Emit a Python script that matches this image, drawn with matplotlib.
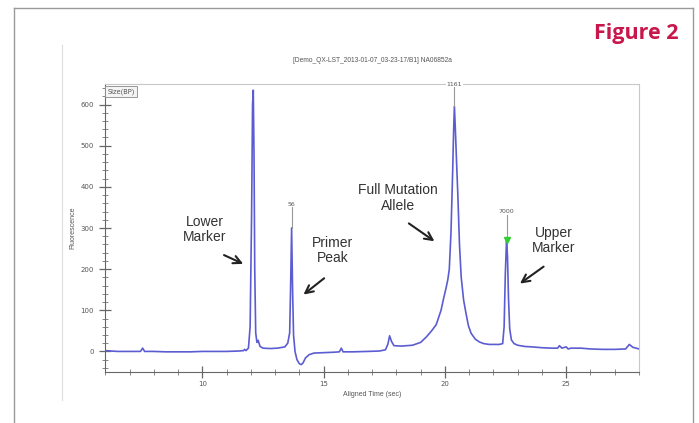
import matplotlib
matplotlib.use("Agg")
import matplotlib.pyplot as plt
from matplotlib.lines import Line2D
from matplotlib.ticker import MultipleLocator

# electropherogram trace
time_s = [6.0, 6.5, 7.0, 7.45, 7.54, 7.62, 8.0, 8.5, 9.0, 9.5, 10.0, 10.5, 11.0, 11.5,
          11.7, 11.74, 11.8, 11.9, 11.97, 12.03, 12.07, 12.1, 12.13, 12.16, 12.2, 12.25,
          12.3, 12.38, 12.5, 12.8, 13.1, 13.4, 13.52, 13.6, 13.64, 13.68, 13.72, 13.76,
          13.82, 13.9, 14.0, 14.08, 14.15, 14.25, 14.4, 14.6, 15.0, 15.4, 15.65, 15.73,
          15.8, 16.2, 16.8, 17.3, 17.55, 17.65, 17.72, 17.8, 17.9, 18.2, 18.66, 19.0,
          19.23, 19.45, 19.64, 19.84, 19.95, 20.05, 20.12, 20.18, 20.25, 20.32, 20.36,
          20.39, 20.43, 20.48, 20.53, 20.6, 20.67, 20.77, 20.87, 20.97, 21.08, 21.25,
          21.42, 21.6, 21.83, 22.05, 22.24, 22.38, 22.44, 22.49, 22.54, 22.58, 22.62,
          22.67, 22.74, 22.85, 23.0, 23.3, 23.6, 24.0, 24.4, 24.65, 24.72, 24.82, 25.0,
          25.08, 25.2, 25.6, 26.0, 26.5, 27.0, 27.45, 27.6, 27.75, 28.0]
fluor = [2, 0, 0, 0, 8, 0, 0, -1, -1, -1, 0, 0, 0, 1,
         2, 5, 2, 8, 60, 330, 600, 635, 480, 200, 45, 22,
         27, 12, 8, 7, 8, 11, 20, 45, 160, 300, 150, 40,
         0, -20, -30, -32, -28, -16, -8, -4, -3, -2, -1, 8,
         -1, -1, 0, 1, 4, 18, 38, 24, 14, 13, 15, 22,
         35, 50, 65, 100, 130, 155, 175, 200, 290, 440, 540,
         596, 540, 460, 384, 260, 181, 125, 92, 62, 44, 30,
         23, 19, 17, 17, 17, 19, 60, 190, 270, 230, 130,
         55, 28, 19, 15, 12, 11, 9, 8, 8, 14, 8, 11,
         6, 8, 8, 6, 5, 5, 6, 17, 10, 6]

# peak size calls: (label, time, top of peak, label height)
peak_names = ["56", "1161", "7000"]
peak_time = [13.68, 20.39, 22.54]
peak_top = [300, 596, 270]
peak_label_y = [358, 650, 340]

# arrows: text, text centre, arrow tail, arrow head
notes = ["Lower\nMarker", "Primer\nPeak", "Full Mutation\nAllele", "Upper\nMarker"]
note_xy = [(10.1, 296), (15.37, 246), (18.05, 373), (24.5, 270)]
tail_xy = [(10.79, 237), (15.11, 182), (18.42, 315), (24.16, 210)]
head_xy = [(11.79, 210), (14.08, 134), (19.66, 264), (23.0, 161)]

W, H = 699, 423
fig = plt.figure(figsize=(W / 100, H / 100), dpi=100)
fig.patch.set_facecolor("white")

def fx(px):
    return px / W

def fy(py):
    return 1 - py / H

# page frame and screenshot edge
frame = "#9a9a9a"
fig.add_artist(Line2D([fx(14), fx(14)], [0, fy(8)], color=frame, lw=1.0))
fig.add_artist(Line2D([fx(14), fx(693)], [fy(8), fy(8)], color=frame, lw=1.0))
fig.add_artist(Line2D([fx(693), fx(693)], [fy(8), 0], color=frame, lw=1.0))
fig.add_artist(Line2D([fx(62), fx(62)], [fy(45), fy(400)], color="#dddddd", lw=0.8))

fig.text(fx(678), fy(34), "Figure 2", ha="right", va="center", fontsize=15.5,
         fontweight="bold", color="#c8174a", family="Open Sans")
fig.text(fx(372), fy(60), "[Demo_QX-LST_2013-01-07_03-23-17/B1] NA06852a",
         ha="center", va="center", fontsize=4.8, color="#555555", family="Liberation Sans")

ax = fig.add_axes([fx(105.3), fy(372), fx(639) - fx(105.3), fy(84) - fy(372)])
ax.plot(time_s, fluor, color="#5c5cd2", lw=1.2)
ax.set_xlim(6, 28)
ax.set_ylim(-50, 650)

ax.xaxis.set_major_locator(MultipleLocator(5))
ax.xaxis.set_minor_locator(MultipleLocator(1))
ax.yaxis.set_major_locator(MultipleLocator(100))
ax.yaxis.set_minor_locator(MultipleLocator(20))
ax.set_yticks(range(0, 601, 100))
ax.tick_params(which="major", direction="inout", length=9, width=0.9, color="#666666",
               labelsize=5, labelcolor="#555555")
ax.tick_params(which="minor", direction="inout", length=4, width=0.7, color="#888888")
ax.tick_params(axis="x", which="major", pad=2)
for s in ["left", "bottom"]:
    ax.spines[s].set_color("#666666")
for s in ["top", "right"]:
    ax.spines[s].set_color("#c8c8c8")
ax.set_xlabel("Aligned Time (sec)", fontsize=5, color="#555555", labelpad=3,
              family="Liberation Sans")
ax.set_ylabel("Fluorescence", fontsize=5, color="#555555", labelpad=3,
              family="Liberation Sans")

ax.text(0.004, 0.985, "Size(BP)", transform=ax.transAxes, ha="left", va="top",
        fontsize=4.8, color="#555555",
        bbox=dict(boxstyle="square,pad=0.3", fc="#f4f4f4", ec="#888888", lw=0.6))

for name, t, top, ly in zip(peak_names, peak_time, peak_top, peak_label_y):
    ax.plot([t, t], [top, ly - 8], color="#999999", lw=0.8)
    ax.text(t, ly, name, ha="center", va="center", fontsize=4.5, color="#555555",
            bbox=dict(fc="white", ec="none", pad=0.5))
ax.plot([peak_time[2]], [peak_top[2]], marker="v", color="#33cc33", ms=5)

for txt, p, tl, hd in zip(notes, note_xy, tail_xy, head_xy):
    ax.text(p[0], p[1], txt, ha="center", va="center", fontsize=10,
            color="#333333", family="Liberation Sans", linespacing=1.1)
    ax.annotate("", xy=hd, xytext=tl,
                arrowprops=dict(arrowstyle="->", color="#222222", lw=1.5,
                                mutation_scale=14))

fig.savefig("out.png", dpi=100)
